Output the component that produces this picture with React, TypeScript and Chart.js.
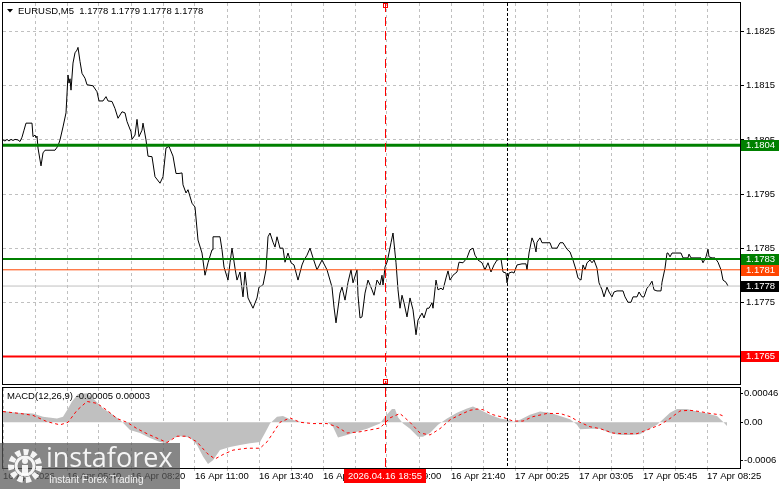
import React, { useEffect, useRef } from "react";
import { Chart, registerables } from "chart.js";

Chart.register(...registerables);

// ---------- data ----------
const barIndex = [
  0, 1, 2, 3, 4, 5, 6, 7.5, 8.5, 9.5,
  10.5, 11.5, 14.5, 15, 16, 16.5, 17, 17.5, 19, 20,
  21, 26, 27.5, 28.5, 30, 31.5, 32.5, 33, 33.5, 34,
  35, 36, 37, 37.5, 38.5, 39.5, 41, 42, 45, 47,
  48, 50, 51.5, 52.5, 54.5, 56, 57.5, 59.5, 61, 62,
  64, 64.5, 66, 67, 68, 69.5, 70, 71.5, 72.5, 74.5,
  76, 78.5, 80, 81.5, 83, 85, 86.5, 88, 89.5, 90,
  91.5, 92.5, 94.5, 96, 97.5, 99.5, 101, 102.5, 104.5, 105,
  108.5, 109.5, 110.5, 112.5, 113.5, 114.5, 116, 117, 118.5, 120,
  121, 122.5, 125, 127, 128, 130, 131.5, 132.5, 133.5, 135,
  136, 137, 138.5, 140, 141, 142.5, 144, 145.5, 147.5, 149.5,
  150.5, 152, 153.5, 155, 157, 159.5, 162, 164.5, 165.5, 166.5,
  168.5, 169.5, 171, 172.5, 174, 175, 177, 177.5, 178.5, 179.5,
  181, 182.5, 184.5, 185.5, 187, 188.5, 189.5, 190, 191, 192,
  192.5, 194, 195, 196.5, 197.5, 198.5, 199.5, 200.5, 202, 203.5,
  205, 206.5, 207.5, 209.5, 210.5, 212, 213, 214.5, 215, 216.5,
  217.5, 219, 220, 221.5, 222.5, 223.5, 225, 227, 228, 230,
  232, 233.5, 235, 236, 237.5, 239.5, 241, 242.5, 244, 245.5,
  247, 249, 250, 251.5, 252, 253, 254.5, 255.5, 257, 259.5,
  261.5, 262, 263, 264.5, 265.5, 266.5, 267, 268.5, 269.5, 273.5,
  274.5, 277, 278.5, 280, 282, 283.5, 285, 286.5, 287.5, 289,
  290, 291, 292, 293.5, 294.5, 295.5, 297, 298, 299.5, 300.5,
  302, 303, 304.5, 305.5, 307, 310, 311, 312.5, 314, 315,
  317, 318, 319.5, 320.5, 322, 323, 324.5, 325.5, 327, 329,
  329.5, 331, 332, 332.5, 333.5, 334.5, 339, 340, 342.5, 343,
  344, 349, 350, 351.5, 352.5, 353, 354.5, 356, 357.5, 359,
  360, 361.5, 362.5,
];

const closePrice = [
  1.1805, 1.18048, 1.18051, 1.18048, 1.18051, 1.18049, 1.18051, 1.1805, 1.18047, 1.18055,
  1.18068, 1.18081, 1.18081, 1.18056, 1.18059, 1.18054, 1.18057, 1.18035, 1.18002, 1.18026,
  1.18031, 1.18031, 1.18039, 1.1805, 1.18074, 1.181, 1.1817, 1.18155, 1.18163, 1.18142,
  1.18192, 1.18211, 1.18216, 1.18221, 1.18195, 1.18173, 1.18164, 1.18152, 1.1815, 1.18139,
  1.18122, 1.18122, 1.1813, 1.18122, 1.18121, 1.18108, 1.1809, 1.18102, 1.181, 1.18084,
  1.18065, 1.18051, 1.18059, 1.18088, 1.18056, 1.18068, 1.18081, 1.1805, 1.1802, 1.18019,
  1.17982, 1.1797, 1.17982, 1.18035, 1.18038, 1.1802, 1.17988, 1.17988, 1.17989, 1.17967,
  1.17952, 1.17958, 1.17933, 1.17926, 1.17865, 1.17841, 1.178, 1.17823, 1.17847, 1.17871,
  1.17871, 1.17847, 1.17815, 1.17791, 1.17823, 1.1785, 1.17813, 1.17791, 1.17806, 1.1776,
  1.17806, 1.17758, 1.17739, 1.17758, 1.17778, 1.17782, 1.1781, 1.17871, 1.17878, 1.17861,
  1.17852, 1.17871, 1.1785, 1.1785, 1.17824, 1.17841, 1.17823, 1.17819, 1.17791, 1.17819,
  1.17828, 1.17837, 1.1785, 1.17832, 1.1781, 1.17828, 1.1781, 1.17778, 1.17741, 1.17712,
  1.17767, 1.17778, 1.17754, 1.17787, 1.1781, 1.17786, 1.1781, 1.17763, 1.17721, 1.17723,
  1.17767, 1.17791, 1.17773, 1.17763, 1.17791, 1.17782, 1.178, 1.17782, 1.17815, 1.17824,
  1.17832, 1.1786, 1.17878, 1.17823, 1.17773, 1.17739, 1.17763, 1.17749, 1.17723, 1.17758,
  1.17736, 1.1769, 1.17717, 1.1773, 1.17721, 1.17739, 1.17739, 1.17749, 1.17739, 1.17791,
  1.17773, 1.17776, 1.17773, 1.17795, 1.17808, 1.17791, 1.178, 1.17806, 1.17824, 1.17823,
  1.17832, 1.17847, 1.1785, 1.17837, 1.17828, 1.17823, 1.1781, 1.17823, 1.17806, 1.17819,
  1.17828, 1.1783, 1.17806, 1.17804, 1.17786, 1.17804, 1.17806, 1.17804, 1.17819, 1.17821,
  1.17821, 1.1781, 1.17841, 1.17869, 1.1786, 1.17843, 1.17861, 1.17869, 1.1786, 1.1786,
  1.1785, 1.1785, 1.1786, 1.1786, 1.17848, 1.17843, 1.17828, 1.1781, 1.17795, 1.17791,
  1.17819, 1.1781, 1.17823, 1.17828, 1.17823, 1.17828, 1.17813, 1.17786, 1.17773, 1.1776,
  1.17778, 1.17769, 1.1776, 1.17769, 1.17771, 1.17771, 1.1776, 1.1775, 1.1775, 1.1776,
  1.1776, 1.17769, 1.1776, 1.1776, 1.17776, 1.1778, 1.17789, 1.17773, 1.17771, 1.17771,
  1.17787, 1.17813, 1.17841, 1.17841, 1.17834, 1.17841, 1.17841, 1.17832, 1.17832, 1.17839,
  1.17832, 1.17832, 1.17823, 1.17834, 1.17848, 1.17834, 1.17832, 1.17832, 1.17824, 1.1781,
  1.17791, 1.17787, 1.1778,
];

const histBar = [
  0, 7, 15, 20, 27, 30, 32, 34.5, 37.5, 42,
  46, 50, 55, 59.5, 63.5, 68.5, 73.5, 78.5, 82, 85,
  88.5, 93.5, 97, 100, 102.5, 105, 108.5, 113.5, 118.5, 123.5,
  128.5, 131, 133.5, 137, 140, 143.5, 148.5, 155, 162, 165,
  167.5, 172, 177, 182, 188.5, 191, 194.5, 196, 197.5, 200,
  203.5, 207.5, 210, 213.5, 217.5, 222, 227, 232, 235, 238.5,
  243.5, 248.5, 252, 255, 258.5, 263.5, 268.5, 273.5, 278.5, 283.5,
  287, 288.5, 293.5, 298.5, 303.5, 308.5, 313.5, 318.5, 322, 327,
  330, 333.5, 337, 342, 347, 352, 357, 360, 362,
];
const histValue = [
  0.00018, 0.00015, 0.00014, 0.00009, 0.00006, 0.00009, 0.00019, 0.00033, 0.00045, 0.00046,
  0.00035, 0.00022, 0.00012, 0.00001, -0.00012, -0.00017, -0.00025, -0.00031, -0.00033, -0.00025,
  -0.00022, -0.00024, -0.00036, -0.00054, -0.00066, -0.0006, -0.00044, -0.00039, -0.00036, -0.00033,
  -0.00031, -0.00017, -0.00002, 0.00009, 0.0001, 0.00005, 0.00001, 0.0, 0.00001, -0.00007,
  -0.00024, -0.0002, -0.00015, -0.0001, -0.00002, 0.00009, 0.00021, 0.00021, 0.00008, -0.00002,
  -0.0001, -0.00023, -0.00023, -0.00017, -0.00004, 0.00006, 0.00015, 0.00022, 0.00025, 0.0002,
  0.00012, 0.00006, 0.00004, 0.00001, 0.00004, 0.00012, 0.00017, 0.00015, 0.0001, 0.00005,
  -0.00004, -0.00011, -0.0001, -0.0001, -0.00017, -0.0002, -0.0002, -0.00019, -0.00012, -0.00004,
  0.00005, 0.00015, 0.00021, 0.00021, 0.00017, 0.00014, 0.0001, 0.00001, -0.00006,
];

const signalBar = [
  0, 8.5, 15, 22, 28.5, 32.5, 37, 42, 47, 52,
  57, 62, 67, 72, 77, 82, 87, 92, 97, 102,
  106, 110, 115, 122, 128.5, 132, 135, 138.5, 143.5, 148.5,
  155, 162, 167, 172, 178.5, 183.5, 188.5, 193.5, 198.5, 203.5,
  208.5, 213.5, 218.5, 223.5, 228.5, 233.5, 237, 240, 245, 250,
  255, 260, 265, 272, 278.5, 283.5, 288.5, 293.5, 298.5, 305,
  310, 317, 322, 328.5, 333.5, 338.5, 343.5, 348.5, 353.5, 358.5,
  361,
];
const signalValue = [
  0.00017, 0.00014, 0.00011, 0.00001, -0.00004, 0.0, 0.00019, 0.00033, 0.0003, 0.00019,
  0.00006, 0.0, -0.0001, -0.00018, -0.00025, -0.00032, -0.00022, -0.00022, -0.00031, -0.00049,
  -0.00058, -0.00051, -0.00044, -0.00041, -0.00041, -0.00031, -0.00017, 0.0, 0.00007, 0.0,
  -0.00002, -0.00002, -0.00007, -0.00017, -0.00015, -0.00012, -0.00009, 0.00007, 0.00014, 0.0,
  -0.00017, -0.0002, -0.0001, 0.00004, 0.00012, 0.00019, 0.00021, 0.0002, 0.00012, 0.00008,
  0.00002, 0.00002, 0.00009, 0.00014, 0.00014, 0.00009, 0.0, -0.00007, -0.0001, -0.00017,
  -0.00018, -0.00018, -0.00012, -0.00004, 0.00006, 0.00018, 0.00019, 0.00017, 0.00014, 0.00012,
  0.00009,
];

const levelPrices = [1.1804, 1.1783, 1.1781, 1.1778, 1.1765];
const priceTicks = [1.1765, 1.1775, 1.1785, 1.1795, 1.1805, 1.1815, 1.1825];
const macdTicks = [0.00046, 0, -0.0006];
const macdTickLabels = ["0.00046", "0.00", "-0.0006"];
const timeLabels = [
  "16 Apr 2026", "16 Apr 05:40", "16 Apr 08:20", "16 Apr 11:00", "16 Apr 13:40", "16 Apr 16:20",
  "16 Apr 19:00", "16 Apr 21:40", "17 Apr 00:25", "17 Apr 03:05", "17 Apr 05:45", "17 Apr 08:25",
];
const timeLabelBars = [0, 32, 64, 96, 128, 160, 192, 224, 256, 288, 320, 352];
const gridBars = [16, 32, 48, 64, 80, 96, 112, 128, 144, 160, 176, 192, 208, 224, 240, 256, 272, 288, 304, 320, 336, 352];
const selectedBar = 191;
const selectedTime = "2026.04.16 18:55";
const sessionBar = 252;
const symbolTitle = "EURUSD,M5  1.1778 1.1779 1.1778 1.1778";
const macdTitle = "MACD(12,26,9) -0.00005 0.00003";

// ---------- styles ----------
const FAMILY = "'Liberation Sans', Arial, sans-serif";
const FONT_PX = 9.5;
const X_MIN = 0;
const X_MAX = 368.5;
const PRICE_MIN = 1.17599;
const PRICE_MAX = 1.18303;
const MACD_MIN = -0.000723;
const MACD_MAX = 0.000543;
const GRID = "#c0c0c0";
const levelColors = ["#008000", "#008000", "#ff4500", "#c0c0c0", "#ff0000"];
const levelWidths = [3, 2, 1, 1, 2];
const levelBoxColors = ["#008000", "#008000", "#ff4500", "#000000", "#ff0000"];

const font = { family: FAMILY, size: FONT_PX };

function drawVerticals(chart: any, markers: boolean) {
  const { ctx, chartArea, scales } = chart;
  const { top, bottom } = chartArea;
  const xs = scales.x;
  ctx.save();
  const xr = Math.round(xs.getPixelForValue(selectedBar)) + 0.5;
  ctx.lineWidth = 1;
  ctx.strokeStyle = "#ff0000";
  ctx.setLineDash([9, 5]);
  ctx.beginPath();
  ctx.moveTo(xr, top);
  ctx.lineTo(xr, bottom);
  ctx.stroke();
  const xb = Math.round(xs.getPixelForValue(sessionBar)) + 0.5;
  ctx.strokeStyle = "#000000";
  ctx.setLineDash([3, 2]);
  ctx.beginPath();
  ctx.moveTo(xb, top);
  ctx.lineTo(xb, bottom);
  ctx.stroke();
  ctx.setLineDash([]);
  if (markers) {
    ctx.strokeStyle = "#ff0000";
    ctx.strokeRect(xr - 2, top + 0.5, 4, 4);
    ctx.strokeRect(xr - 2, bottom - 4.5, 4, 4);
  }
  ctx.restore();
}

function drawFrame(chart: any) {
  const { ctx, chartArea } = chart;
  const { left, right, top, bottom } = chartArea;
  ctx.save();
  ctx.strokeStyle = "#000";
  ctx.lineWidth = 1;
  ctx.setLineDash([]);
  ctx.strokeRect(Math.round(left) - 0.5, Math.round(top) - 0.5, Math.round(right - left) + 1, Math.round(bottom - top) + 1);
  ctx.restore();
}

const mainDecor = {
  id: "mainDecor",
  afterDatasetsDraw(chart: any) {
    drawVerticals(chart, true);
  },
  afterDraw(chart: any) {
    const { ctx, scales } = chart;
    drawFrame(chart);
    ctx.save();
    // title
    ctx.fillStyle = "#000";
    ctx.beginPath();
    ctx.moveTo(7, 9);
    ctx.lineTo(13, 9);
    ctx.lineTo(10, 12.5);
    ctx.closePath();
    ctx.fill();
    ctx.font = `${FONT_PX}px ${FAMILY}`;
    ctx.textBaseline = "middle";
    ctx.textAlign = "left";
    ctx.fillText(symbolTitle, 18, 11);
    // level boxes on the price axis
    const ys = scales.y;
    levelPrices.forEach((v, i) => {
      const y = Math.round(ys.getPixelForValue(v));
      ctx.fillStyle = levelBoxColors[i];
      ctx.fillRect(741, y - 5, 38, 11);
      ctx.fillStyle = "#ffffff";
      ctx.fillText(v.toFixed(4), 746, y + 0.5);
    });
    ctx.restore();
  },
};

const macdDecor = {
  id: "macdDecor",
  afterDatasetsDraw(chart: any) {
    drawVerticals(chart, false);
  },
  afterDraw(chart: any) {
    const { ctx, chartArea, scales } = chart;
    drawFrame(chart);
    ctx.save();
    ctx.font = `${FONT_PX}px ${FAMILY}`;
    ctx.textBaseline = "middle";
    ctx.textAlign = "left";
    ctx.fillStyle = "#000";
    ctx.fillText(macdTitle, 7, chartArea.top + 8);
    // selected time box on the time axis
    const xr = Math.round(scales.x.getPixelForValue(selectedBar));
    const w = Math.ceil(ctx.measureText(selectedTime).width) + 8;
    ctx.fillStyle = "#ff0000";
    ctx.fillRect(xr - w / 2, chartArea.bottom + 1, w, 14);
    ctx.fillStyle = "#ffffff";
    ctx.textAlign = "center";
    ctx.fillText(selectedTime, xr, chartArea.bottom + 8.5);
    ctx.restore();
  },
};

export default function App() {
  const mainRef = useRef<HTMLCanvasElement>(null);
  const macdRef = useRef<HTMLCanvasElement>(null);

  useEffect(() => {
    const n = Math.min(barIndex.length, closePrice.length);
    const priceData = Array.from({ length: n }, (_, i) => ({ x: barIndex[i], y: closePrice[i] }));
    const levelSets = levelPrices.map((v, i) => ({
      type: "line" as const,
      data: [{ x: X_MIN, y: v }, { x: X_MAX, y: v }],
      borderColor: levelColors[i],
      borderWidth: levelWidths[i],
      pointRadius: 0,
      fill: false,
    }));

    const c1 = new Chart(mainRef.current as HTMLCanvasElement, {
      type: "line",
      data: {
        datasets: [
          ...levelSets,
          {
            data: priceData,
            borderColor: "#000000",
            borderWidth: 1,
            pointRadius: 0,
            tension: 0,
            fill: false,
          },
        ],
      },
      options: {
        animation: false,
        responsive: false,
        maintainAspectRatio: false,
        devicePixelRatio: 1,
        events: [],
        layout: { padding: { left: 3, top: 3, right: 0, bottom: 2 } },
        plugins: { legend: { display: false }, tooltip: { enabled: false }, title: { display: false } },
        scales: {
          x: {
            type: "linear",
            min: X_MIN,
            max: X_MAX,
            position: "bottom",
            afterBuildTicks: (s: any) => {
              s.ticks = gridBars.map((v) => ({ value: v }));
            },
            afterFit: (s: any) => {
              s.height = 0;
              s.paddingLeft = 0;
              s.paddingRight = 0;
            },
            ticks: { display: false, autoSkip: false },
            grid: { color: GRID, drawTicks: false, lineWidth: 1 },
            border: { display: false, dash: [3, 3] },
          },
          y: {
            type: "linear",
            position: "right",
            min: PRICE_MIN,
            max: PRICE_MAX,
            afterBuildTicks: (s: any) => {
              s.ticks = priceTicks.map((v) => ({ value: v }));
            },
            afterFit: (s: any) => {
              s.width = 41;
              s.paddingTop = 0;
              s.paddingBottom = 0;
            },
            ticks: {
              font,
              color: "#000",
              padding: 2,
              autoSkip: false,
              callback: (v: any) => Number(v).toFixed(4),
            },
            grid: { color: GRID, tickColor: "#000", tickLength: 4, tickBorderDash: [], lineWidth: 1 },
            border: { display: false, dash: [3, 3] },
          },
        },
      },
      plugins: [mainDecor],
    } as any);

    const histData = histBar.map((x, i) => ({ x, y: histValue[i] }));
    const sigData = signalBar.map((x, i) => ({ x, y: signalValue[i] }));

    const c2 = new Chart(macdRef.current as HTMLCanvasElement, {
      type: "line",
      data: {
        datasets: [
          {
            data: sigData,
            borderColor: "#ff0000",
            borderWidth: 1,
            borderDash: [3, 3],
            pointRadius: 0,
            tension: 0,
            fill: false,
          },
          {
            data: histData,
            borderColor: "rgba(0,0,0,0)",
            borderWidth: 0,
            backgroundColor: "#c0c0c0",
            pointRadius: 0,
            tension: 0,
            fill: "origin",
          },
        ],
      },
      options: {
        animation: false,
        responsive: false,
        maintainAspectRatio: false,
        devicePixelRatio: 1,
        events: [],
        layout: { padding: { left: 3, top: 2, right: 0, bottom: 0 } },
        plugins: { legend: { display: false }, tooltip: { enabled: false }, title: { display: false } },
        scales: {
          x: {
            type: "linear",
            min: X_MIN,
            max: X_MAX,
            position: "bottom",
            afterBuildTicks: (s: any) => {
              s.ticks = [0, ...gridBars].map((v) => ({ value: v }));
            },
            afterFit: (s: any) => {
              s.height = 21;
              s.paddingLeft = 0;
              s.paddingRight = 0;
            },
            ticks: {
              font,
              color: "#000",
              align: "start",
              autoSkip: false,
              maxRotation: 0,
              minRotation: 0,
              padding: 0,
              callback: (v: any) => {
                const k = timeLabelBars.indexOf(Number(v));
                return k >= 0 ? timeLabels[k] : "";
              },
            },
            grid: { color: GRID, tickColor: GRID, tickLength: 3, tickBorderDash: [], lineWidth: 1 },
            border: { display: false, dash: [3, 3] },
          },
          y: {
            type: "linear",
            position: "right",
            min: MACD_MIN,
            max: MACD_MAX,
            afterBuildTicks: (s: any) => {
              s.ticks = macdTicks.map((v) => ({ value: v }));
            },
            afterFit: (s: any) => {
              s.width = 41;
              s.paddingTop = 0;
              s.paddingBottom = 0;
            },
            ticks: {
              font,
              color: "#000",
              padding: 1,
              autoSkip: false,
              callback: (v: any) => {
                const k = macdTicks.indexOf(Number(v));
                return k >= 0 ? macdTickLabels[k] : "";
              },
            },
            grid: { drawOnChartArea: false, tickColor: "#000", tickLength: 3 },
            border: { display: false },
          },
        },
      },
      plugins: [macdDecor],
    } as any);

    return () => {
      c1.destroy();
      c2.destroy();
    };
  }, []);

  return (
    <div
      style={{
        position: "fixed",
        left: 0,
        top: 0,
        width: 781,
        height: 489,
        background: "#ffffff",
        overflow: "hidden",
      }}
    >
      <canvas
        ref={mainRef}
        width={781}
        height={386}
        style={{ position: "absolute", left: 0, top: 0, width: 781, height: 386 }}
      />
      <canvas
        ref={macdRef}
        width={781}
        height={103}
        style={{ position: "absolute", left: 0, top: 386, width: 781, height: 103 }}
      />
      <div
        style={{
          position: "absolute",
          left: 0,
          top: 443,
          width: 180,
          height: 46,
          background: "rgba(88,88,88,0.72)",
        }}
      >
        <svg width={40} height={40} style={{ position: "absolute", left: 5, top: 3 }}>
          <circle cx={20} cy={20} r={14} fill="none" stroke="rgba(255,255,255,0.92)" strokeWidth={6} strokeDasharray="5 3" />
          <circle cx={20} cy={20} r={9} fill="none" stroke="rgba(255,255,255,0.92)" strokeWidth={3} />
          <circle cx={20} cy={15} r={3} fill="rgba(255,255,255,0.92)" />
          <rect x={17} y={19} width={6} height={10} fill="rgba(255,255,255,0.92)" />
        </svg>
        <div
          style={{
            position: "absolute",
            left: 46,
            top: 0,
            fontFamily: "'Open Sans', sans-serif",
            fontSize: 27,
            lineHeight: "27px",
            color: "rgba(255,255,255,0.92)",
            whiteSpace: "nowrap",
          }}
        >
          instaforex
        </div>
        <div
          style={{
            position: "absolute",
            left: 49,
            top: 31,
            fontFamily: FAMILY,
            fontSize: 10,
            lineHeight: "12px",
            color: "rgba(255,255,255,0.9)",
            whiteSpace: "nowrap",
          }}
        >
          Instant Forex Trading
        </div>
      </div>
    </div>
  );
}
